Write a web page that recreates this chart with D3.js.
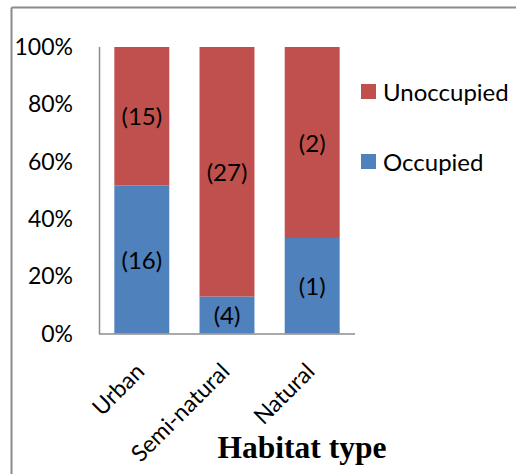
<!DOCTYPE html>
<html><head><meta charset="utf-8">
<script src="https://cdn.jsdelivr.net/npm/d3@7"></script>
<style>body{margin:0;background:#fff}</style>
</head><body>
<svg id="c" width="516" height="474"></svg>
<script>
const categories = ["Urban", "Semi-natural", "Natural"];
const occupied = [16, 4, 1];
const unoccupied = [15, 27, 2];
const seriesNames = ["Occupied", "Unoccupied"];
const yTicks = [0, 0.2, 0.4, 0.6, 0.8, 1.0];
const colors = {Occupied: "#4F81BD", Unoccupied: "#C0504D"};

const svg = d3.select("#c");
const font = "Lato, 'Open Sans', sans-serif";

// outer border (top and left visible)
svg.append("line").attr("x1", 11.5).attr("x2", 516).attr("y1", 7.5).attr("y2", 7.5).attr("stroke", "#8a8a8a").attr("stroke-width", 2);
svg.append("line").attr("x1", 11.5).attr("x2", 11.5).attr("y1", 7.5).attr("y2", 474).attr("stroke", "#8a8a8a").attr("stroke-width", 2);

const x = d3.scaleBand().domain(categories).range([99, 355]).paddingInner(0.355).paddingOuter(0.18);
const y = d3.scaleLinear().domain([0, 1]).range([333.5, 47]);

const rows = categories.map((c, i) => ({cat: c, Occupied: occupied[i], Unoccupied: unoccupied[i], total: occupied[i] + unoccupied[i]}));
const stack = d3.stack().keys(seriesNames).value((d, k) => d[k] / d.total);
const layers = stack(rows);

const g = svg.append("g");
layers.forEach(layer => {
  g.selectAll(null).data(layer).enter().append("rect")
    .attr("x", d => x(d.data.cat))
    .attr("width", x.bandwidth())
    .attr("y", d => y(d[1]))
    .attr("height", d => y(d[0]) - y(d[1]))
    .attr("fill", colors[layer.key]);
  g.selectAll(null).data(layer).enter().append("text")
    .attr("x", d => x(d.data.cat) + x.bandwidth() / 2)
    .attr("y", d => (y(d[0]) + y(d[1])) / 2 + 9)
    .attr("text-anchor", "middle")
    .attr("font-family", font).attr("font-size", 24).attr("fill", "#000")
    .text(d => "(" + d.data[layer.key] + ")");
});

// axes lines
svg.append("line").attr("x1", 99.5).attr("x2", 99.5).attr("y1", 47).attr("y2", 334).attr("stroke", "#8c8c8c").attr("stroke-width", 1.5);
svg.append("line").attr("x1", 99).attr("x2", 355).attr("y1", 334).attr("y2", 334).attr("stroke", "#8c8c8c").attr("stroke-width", 1.5);

// y tick labels
svg.selectAll(null).data(yTicks).enter().append("text")
  .attr("x", 73).attr("y", d => y(d) + 8)
  .attr("text-anchor", "end")
  .attr("font-family", font).attr("font-size", 23).attr("fill", "#000")
  .text(d => d3.format(".0%")(d));

// x labels rotated
svg.selectAll(null).data(categories).enter().append("text")
  .attr("transform", d => `translate(${x(d) + x.bandwidth() / 2 + 4},${373}) rotate(-45)`)
  .attr("text-anchor", "end")
  .attr("font-family", font).attr("font-size", 23).attr("fill", "#000")
  .text(d => d);

// x axis title
svg.append("text").attr("x", 302).attr("y", 458).attr("text-anchor", "middle")
  .attr("font-family", "'Liberation Serif', 'Times New Roman', serif").attr("font-weight", "bold").attr("font-size", 31.5)
  .text("Habitat type");

// legend
const legendItems = ["Unoccupied", "Occupied"];
const lg = svg.selectAll(null).data(legendItems).enter().append("g")
  .attr("transform", (d, i) => `translate(361,${84 + i * 70})`);
lg.append("rect").attr("width", 15).attr("height", 15).attr("fill", d => colors[d]);
lg.append("text").attr("x", 22).attr("y", 17).attr("font-family", font).attr("font-size", 24).attr("fill", "#000").text(d => d);
</script>
</body></html>
